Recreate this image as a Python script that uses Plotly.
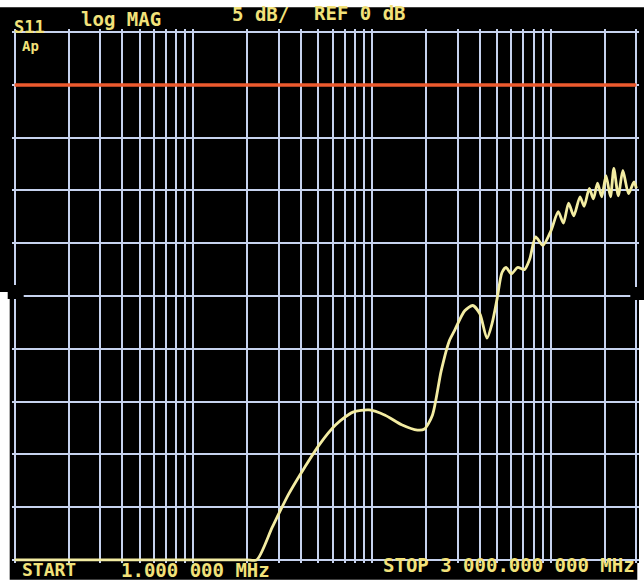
import plotly.graph_objects as go

# S11 magnitude sweep, 1 MHz .. 3 GHz (log frequency), 5 dB/div
freq_mhz = [1, 5, 10, 16, 20, 22.6, 27.6, 34, 42, 50.5, 62.5, 78, 96, 118, 146, 179, 196,
            217, 243, 269, 288, 329, 365, 400, 438, 468, 500, 531, 560, 600,
            650, 710, 760, 820, 900, 1000, 1097, 1173, 1254, 1340, 1452, 1531,
            1637, 1726, 1820, 1920, 2030, 2150, 2245, 2378, 2522, 2712, 2911, 3000]
s11_db = [-25, -25, -25, -25, -25, -25, -21.9, -18.8, -16.2, -14.1, -12.2, -11.0, -10.8, -11.3, -12.2, -12.7, -12.6,
          -11.3, -7.1, -4.3, -3.3, -1.4, -0.9, -1.7, -4.0, -2.6, -0.2, 2.2, 2.7, 2.1,
          2.7, 2.5, 3.5, 5.6, 4.8, 6.2, 8.0, 6.9, 8.8, 7.6, 9.4, 8.5,
          10.2, 9.2, 10.7, 9.4, 11.4, 9.4, 12.1, 9.5, 11.9, 9.7, 10.8, 10.2]

# second channel trace
ref_freq_mhz = [1, 3000]
ref_db = [20, 20]

W, H = 644, 588
ML, MR, MT, MB = 12.3, 5.3, 28.8, 24.8
PW, PH = W - ML - MR, H - MT - MB


def px(x):
    return (x - ML) / PW


def py(y):
    return 1 - (y - MT) / PH


GRID = "#c6d2ee"
YEL = "#f2e27a"

fig = go.Figure()
fig.add_trace(go.Scatter(x=ref_freq_mhz, y=ref_db, mode="lines",
                         line=dict(color="#ec5a2e", width=3.4), hoverinfo="skip"))
fig.add_trace(go.Scatter(x=freq_mhz, y=s11_db, mode="lines",
                         line=dict(color="#f3eca2", width=2.8, shape="spline", smoothing=0.7)))

# screen face and reference-position notches
shapes = [
    dict(type="rect", xref="paper", yref="paper", x0=px(0), x1=px(644), y0=py(7), y1=py(292),
         fillcolor="black", line_width=0, layer="below"),
    dict(type="rect", xref="paper", yref="paper", x0=px(10), x1=px(637), y0=py(292), y1=py(580),
         fillcolor="black", line_width=0, layer="below"),
    dict(type="rect", xref="paper", yref="paper", x0=px(8), x1=px(24), y0=py(285), y1=py(299),
         fillcolor="black", line_width=0, layer="above"),
    dict(type="rect", xref="paper", yref="paper", x0=px(630), x1=px(644), y0=py(287), y1=py(300),
         fillcolor="black", line_width=0, layer="above"),
]

labels = [
    ("S11", 12, 27, 17),
    ("log MAG", 79, 19, 19),
    ("5 dB/", 230, 14, 19),
    ("REF 0 dB", 312, 13, 19),
    ("Ap", 20, 46, 14),
    ("START", 20, 570, 18),
    ("1.000 000 MHz", 119, 570, 19),
    ("STOP 3 000.000 000 MHz", 381, 565, 19),
]
annotations = [
    dict(text=t, xref="paper", yref="paper", x=px(x), y=py(y), xanchor="left", yanchor="middle",
         showarrow=False, font=dict(family="DejaVu Sans Mono", size=s, color=YEL, weight="bold"))
    for t, x, y, s in labels
]

fig.update_layout(
    width=W, height=H, margin=dict(l=ML, r=MR, t=MT, b=MB, pad=0),
    paper_bgcolor="white", plot_bgcolor="black", showlegend=False,
    shapes=shapes, annotations=annotations,
)
fig.update_xaxes(type="log", range=[-0.015, 3.492], dtick="D1", showticklabels=False, ticks="",
                 showgrid=True, gridcolor=GRID, gridwidth=2, zeroline=False, showline=False)
fig.update_yaxes(range=[-25.3, 25.3], dtick=5, tick0=0, showticklabels=False, ticks="",
                 showgrid=True, gridcolor=GRID, gridwidth=2, zeroline=False, showline=False)

fig.write_html("out.html")
